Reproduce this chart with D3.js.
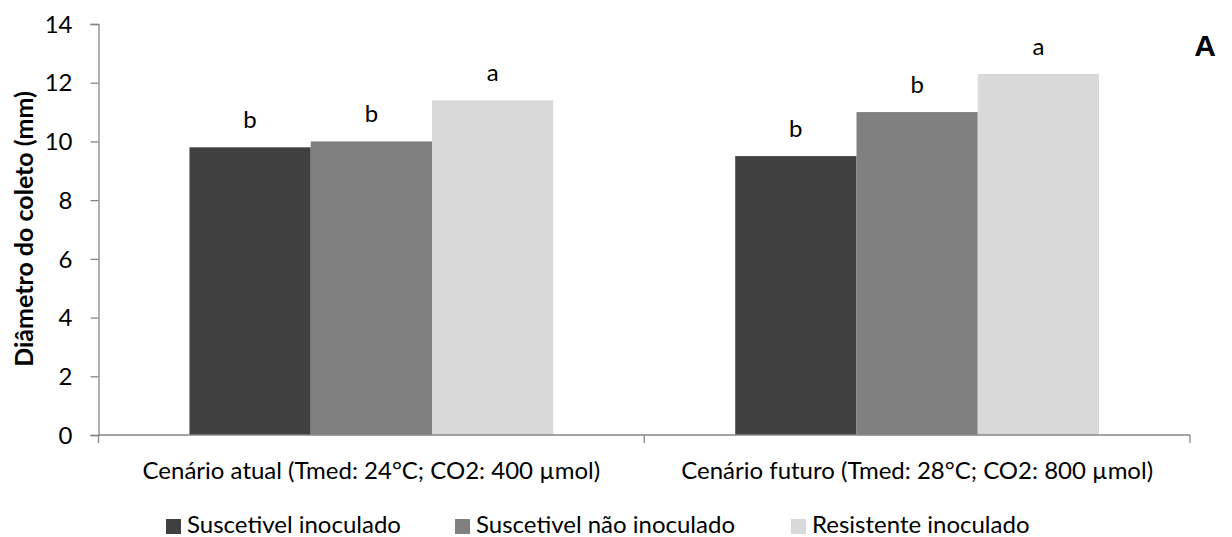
<!DOCTYPE html>
<html><head><meta charset="utf-8">
<script src="https://cdn.jsdelivr.net/npm/d3@7"></script>
<style>body{margin:0;background:#fff}svg{display:block}</style>
</head><body>
<svg id="c" width="1232" height="537"></svg>
<script>
const categories = ["Cenário atual (Tmed: 24°C; CO2: 400 µmol)", "Cenário futuro (Tmed: 28°C; CO2: 800 µmol)"];
const seriesNames = ["Suscetivel inoculado", "Suscetivel não inoculado", "Resistente inoculado"];
const suscInoc = [9.8, 9.5];
const suscNaoInoc = [10.0, 11.0];
const resistInoc = [11.4, 12.3];
const letters1 = ["b", "b"];
const letters2 = ["b", "b"];
const letters3 = ["a", "a"];
const yTicks = [0, 2, 4, 6, 8, 10, 12, 14];
const colors = ["#404040", "#808080", "#d9d9d9"];

const seriesValues = [suscInoc, suscNaoInoc, resistInoc];
const seriesLetters = [letters1, letters2, letters3];

const svg = d3.select("#c");
const font = "Lato, 'Open Sans', sans-serif";
const fs = 24;
const mLeft = 98.5, mRight = 1190, mTop = 24, mBottom = 435;
const axisColor = "#868686";

const x0 = d3.scaleBand().domain(categories).range([mLeft, mRight]).padding(0);
const x1 = d3.scaleBand().domain(d3.range(3)).range([0, x0.bandwidth()]).paddingInner(0).paddingOuter(0.75);
const y = d3.scaleLinear().domain([0, 14]).range([mBottom, mTop]);

// bars
categories.forEach((cat, ci) => {
  seriesValues.forEach((vals, si) => {
    svg.append("rect")
      .attr("x", x0(cat) + x1(si))
      .attr("y", y(vals[ci]))
      .attr("width", x1.bandwidth())
      .attr("height", y(0) - y(vals[ci]))
      .attr("fill", colors[si]);
    svg.append("text")
      .attr("x", x0(cat) + x1(si) + x1.bandwidth() / 2)
      .attr("y", y(vals[ci]) - 19)
      .attr("text-anchor", "middle")
      .attr("font-family", font)
      .attr("font-size", fs)
      .attr("fill", "#000")
      .text(seriesLetters[si][ci]);
  });
});

// y axis
const yAxis = d3.axisLeft(y).tickValues(yTicks).tickSize(8).tickPadding(18).tickFormat(d3.format("d"));
const gy = svg.append("g").attr("transform", `translate(${mLeft},0)`).call(yAxis);
gy.select(".domain").attr("stroke", axisColor).attr("stroke-width", 1.3);
gy.selectAll(".tick line").attr("stroke", axisColor).attr("stroke-width", 1.3);
gy.selectAll(".tick text").attr("font-family", font).attr("font-size", fs).attr("fill", "#000").attr("dy", "0.34em");

// x axis
const gx = svg.append("g").attr("transform", `translate(0,${mBottom})`);
gx.append("line").attr("x1", mLeft).attr("x2", mRight).attr("stroke", axisColor).attr("stroke-width", 1.3);
const boundaries = [mLeft].concat(categories.map(c => x0(c) + x0.bandwidth()));
gx.selectAll("line.t").data(boundaries).join("line").attr("class", "t")
  .attr("x1", d => d).attr("x2", d => d).attr("y1", 0).attr("y2", 8)
  .attr("stroke", axisColor).attr("stroke-width", 1.3);
gx.selectAll("text").data(categories).join("text")
  .attr("x", d => x0(d) + x0.bandwidth() / 2)
  .attr("y", 44)
  .attr("text-anchor", "middle")
  .attr("font-family", font)
  .attr("font-size", fs)
  .attr("fill", "#000")
  .text(d => d);

// y title
svg.append("text")
  .attr("transform", `translate(33,229) rotate(-90)`)
  .attr("text-anchor", "middle")
  .attr("font-family", font)
  .attr("font-weight", "bold")
  .attr("font-size", 25)
  .attr("fill", "#000")
  .text("Diâmetro do coleto (mm)");

// panel letter
svg.append("text")
  .attr("x", 1205).attr("y", 56)
  .attr("text-anchor", "middle")
  .attr("font-family", "'Liberation Sans', Arial, sans-serif")
  .attr("font-weight", "bold")
  .attr("font-size", 30)
  .attr("fill", "#000")
  .text("A");

// legend
const legendX = [166, 455, 791];
const lg = svg.append("g");
seriesNames.forEach((n, i) => {
  lg.append("rect").attr("x", legendX[i]).attr("y", 519).attr("width", 15).attr("height", 15).attr("fill", colors[i]);
  lg.append("text").attr("x", legendX[i] + 21).attr("y", 533)
    .attr("font-family", font).attr("font-size", fs).attr("fill", "#000").text(n);
});
</script>
</body></html>
